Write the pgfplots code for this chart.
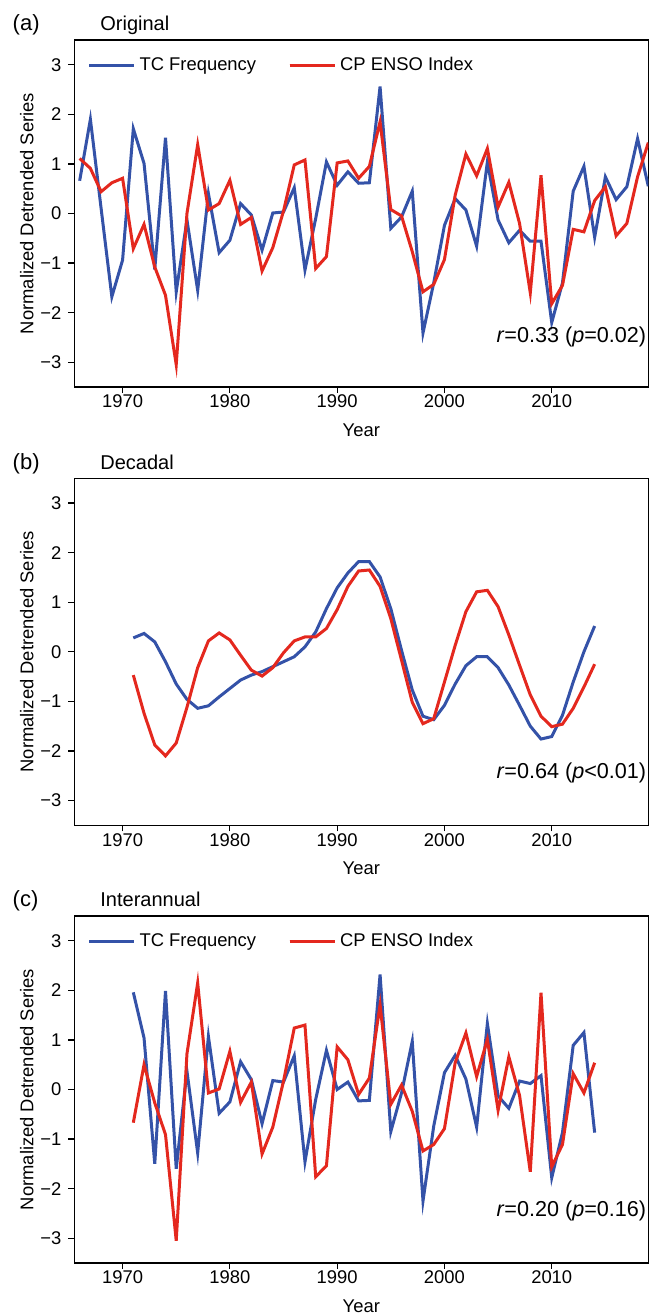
\documentclass[border=0pt]{standalone}
\usepackage{fontspec}
\setmainfont{Liberation Sans}
\usepackage{pgfplots}
\usepackage{pgfplotstable}
\pgfplotsset{compat=1.18}
\definecolor{tcblue}{RGB}{52,82,168}
\definecolor{cpred}{RGB}{228,40,30}

% year, TC frequency, CP ENSO index
\pgfplotstableread{
year tc cp
1966 0.66 1.11
1967 1.90 0.91
1968 0.10 0.44
1969 -1.68 0.62
1970 -0.94 0.71
1971 1.71 -0.71
1972 1.01 -0.22
1973 -1.13 -1.08
1974 1.53 -1.65
1975 -1.58 -3.05
1976 -0.13 0.00
1977 -1.55 1.39
1978 0.40 0.07
1979 -0.79 0.20
1980 -0.54 0.67
1981 0.20 -0.22
1982 -0.03 -0.08
1983 -0.74 -1.16
1984 0.01 -0.69
1985 0.03 0.05
1986 0.52 0.98
1987 -1.14 1.08
1988 -0.10 -1.11
1989 1.04 -0.87
1990 0.57 1.02
1991 0.84 1.06
1992 0.61 0.71
1993 0.62 0.95
1994 2.56 1.85
1995 -0.30 0.08
1996 -0.07 -0.05
1997 0.45 -0.77
1998 -2.41 -1.58
1999 -1.40 -1.43
2000 -0.24 -0.93
2001 0.30 0.37
2002 0.07 1.20
2003 -0.66 0.76
2004 1.04 1.31
2005 -0.13 0.13
2006 -0.59 0.63
2007 -0.34 -0.20
2008 -0.56 -1.60
2009 -0.56 0.77
2010 -2.20 -1.82
2011 -1.40 -1.45
2012 0.45 -0.32
2013 0.95 -0.37
2014 -0.48 0.26
2015 0.74 0.54
2016 0.28 -0.45
2017 0.54 -0.20
2018 1.51 0.74
2019 0.55 1.43
}\original

\pgfplotstableread{
year tc cp
1971 0.28 -0.47
1972 0.37 -1.24
1973 0.20 -1.88
1974 -0.20 -2.10
1975 -0.65 -1.84
1976 -0.96 -1.12
1977 -1.14 -0.32
1978 -1.09 0.22
1979 -0.91 0.38
1980 -0.74 0.24
1981 -0.57 -0.07
1982 -0.47 -0.37
1983 -0.40 -0.49
1984 -0.30 -0.32
1985 -0.20 -0.02
1986 -0.10 0.22
1987 0.10 0.30
1988 0.40 0.30
1989 0.87 0.47
1990 1.29 0.85
1991 1.59 1.32
1992 1.82 1.63
1993 1.82 1.65
1994 1.51 1.32
1995 0.87 0.67
1996 0.03 -0.17
1997 -0.77 -1.02
1998 -1.30 -1.45
1999 -1.37 -1.35
2000 -1.08 -0.61
2001 -0.65 0.13
2002 -0.28 0.81
2003 -0.10 1.21
2004 -0.10 1.24
2005 -0.32 0.91
2006 -0.67 0.34
2007 -1.08 -0.27
2008 -1.50 -0.87
2009 -1.76 -1.30
2010 -1.71 -1.51
2011 -1.28 -1.46
2012 -0.61 -1.14
2013 0.00 -0.71
2014 0.52 -0.25
}\decadal

\pgfplotstableread{
year tc cp
1971 1.96 -0.67
1972 1.04 0.50
1973 -1.50 -0.27
1974 1.99 -0.91
1975 -1.60 -3.05
1976 0.37 0.72
1977 -1.28 2.15
1978 1.07 -0.07
1979 -0.48 0.01
1980 -0.25 0.77
1981 0.56 -0.26
1982 0.20 0.15
1983 -0.69 -1.30
1984 0.18 -0.76
1985 0.15 0.17
1986 0.68 1.24
1987 -1.46 1.30
1988 -0.20 -1.76
1989 0.79 -1.54
1990 0.00 0.86
1991 0.15 0.60
1992 -0.23 -0.10
1993 -0.22 0.23
1994 2.32 1.71
1995 -0.85 -0.30
1996 -0.07 0.09
1997 0.97 -0.44
1998 -2.25 -1.24
1999 -0.74 -1.11
2000 0.34 -0.79
2001 0.69 0.54
2002 0.21 1.14
2003 -0.76 0.26
2004 1.33 1.01
2005 -0.13 -0.42
2006 -0.38 0.66
2007 0.17 -0.12
2008 0.12 -1.66
2009 0.28 1.95
2010 -1.78 -1.56
2011 -0.87 -1.11
2012 0.89 0.32
2013 1.15 -0.07
2014 -0.87 0.54
}\interannual

\pgfplotsset{
  panel/.style={
    scale only axis, width=287pt, height=173.5pt,
    xmin=1965.5, xmax=2019, ymin=-3.5, ymax=3.5,
    xtick={1970,1980,1990,2000,2010},
    xticklabels={1970,1980,1990,2000,2010},
    ytick={-3,-2,-1,0,1,2,3},
    yticklabels={−3,−2,−1,0,1,2,3},
    tick align=outside, xtick pos=bottom, ytick pos=left,
    major tick length=3pt,
    axis line style={line width=0.6pt},
    tick style={line width=0.6pt, black},
    tick label style={font=\fontsize{9.2}{10}\selectfont},
    xticklabel shift=-2.5pt,
    label style={font=\fontsize{9.2}{10}\selectfont},
    xlabel={Year}, ylabel={Normalized Detrended Series},
    xlabel shift=1pt, ylabel shift=-3.5pt,
    every axis plot/.append style={line width=1.5pt, mark=none},
    legend style={draw=none, fill=none, at={(0.012,0.974)}, anchor=north west,
      font=\fontsize{9.2}{10}\selectfont, legend columns=2,
      /tikz/every even column/.append style={column sep=14pt}},
    legend image code/.code={\draw[##1] (0pt,0pt) -- (20pt,0pt); \path (0pt,0pt) -- (22.5pt,0pt);},
  },
}
\tikzset{
  stat/.style={anchor=east, inner sep=0pt, font=\fontsize{10.8}{12}\selectfont},
  plab/.style={anchor=base west, inner sep=0pt, font=\fontsize{11}{12}\selectfont},
  ptitle/.style={anchor=base west, inner sep=0pt, font=\fontsize{10}{12}\selectfont},
}

\begin{document}
\begin{tikzpicture}
\useasboundingbox (0,0) rectangle (324.5pt,657pt);

\begin{axis}[panel, name=a, at={(37.15pt,637pt)}, anchor=north west]
\addplot[tcblue] table[x=year, y=tc] {\original};
\addlegendentry{TC Frequency}
\addplot[cpred] table[x=year, y=cp] {\original};
\addlegendentry{CP ENSO Index}
\node[stat] at (rel axis cs:0.997,0.145) {\textit{r}=0.33 (\textit{p}=0.02)};
\end{axis}
\node[plab] at ([xshift=-31pt,yshift=4.5pt]a.north west) {(a)};
\node[ptitle] at ([xshift=12.85pt,yshift=4.5pt]a.north west) {Original};

\begin{axis}[panel, name=b, at={(37.15pt,417.85pt)}, anchor=north west]
\addplot[tcblue] table[x=year, y=tc] {\decadal};
\addplot[cpred] table[x=year, y=cp] {\decadal};
\node[stat] at (rel axis cs:0.997,0.15) {\textit{r}=0.64 (\textit{p}<0.01)};
\end{axis}
\node[plab] at ([xshift=-31pt,yshift=4.5pt]b.north west) {(b)};
\node[ptitle] at ([xshift=12.85pt,yshift=4.5pt]b.north west) {Decadal};

\begin{axis}[panel, name=c, at={(37.15pt,199pt)}, anchor=north west]
\addplot[tcblue] table[x=year, y=tc] {\interannual};
\addlegendentry{TC Frequency}
\addplot[cpred] table[x=year, y=cp] {\interannual};
\addlegendentry{CP ENSO Index}
\node[stat] at (rel axis cs:0.997,0.15) {\textit{r}=0.20 (\textit{p}=0.16)};
\end{axis}
\node[plab] at ([xshift=-31pt,yshift=4.5pt]c.north west) {(c)};
\node[ptitle] at ([xshift=12.85pt,yshift=4.5pt]c.north west) {Interannual};
\end{tikzpicture}
\end{document}
